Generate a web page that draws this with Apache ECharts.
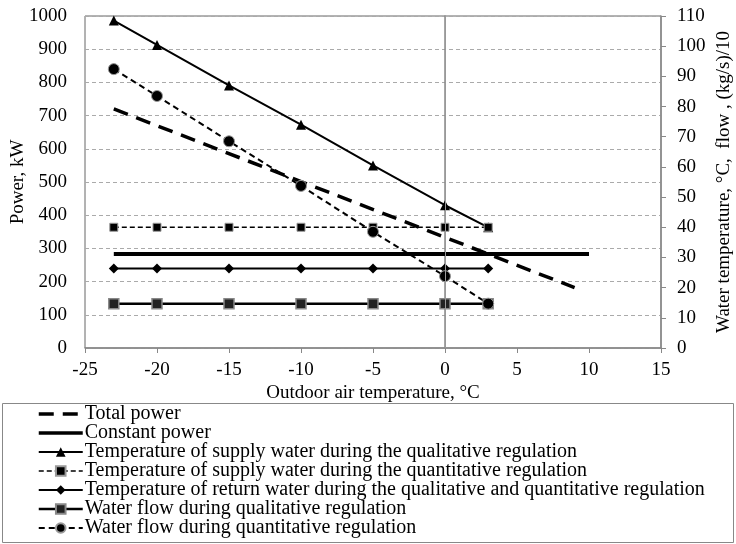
<!DOCTYPE html>
<html>
<head>
<meta charset="utf-8">
<script src="https://cdn.jsdelivr.net/npm/echarts@6/dist/echarts.min.js"></script>
<style>
  html, body { margin: 0; padding: 0; background: #fff; }
  #main { width: 736px; height: 544px; }
</style>
</head>
<body>
<div id="main"></div>
<script>
// outdoor temperature points
var xPts = [-23, -20, -15, -10, -5, 0, 3];
// power, kW (left axis)
var totalPower = [[-23, 720], [9, 182]];
var constPower = [[-23, 283], [10, 283]];
// water temperature / flow (right axis)
var supplyQual = [108.5, 100.4, 87, 74, 60.5, 47.3, 40];
var supplyQuant = [40, 40, 40, 40, 40, 40, 40];
var returnWater = [26.3, 26.3, 26.3, 26.3, 26.3, 26.3, 26.3];
var flowQual = [14.7, 14.7, 14.7, 14.7, 14.7, 14.7, 14.7];
var flowQuant = [92.4, 83.5, 68.5, 53.7, 38.5, 23.8, 14.7];

var names = [
  "Total power",
  "Constant power",
  "Temperature of supply water during the qualitative regulation",
  "Temperature of supply water during the quantitative regulation",
  "Temperature of return water during the qualitative and quantitative regulation",
  "Water flow during qualitative regulation",
  "Water flow during quantitative regulation"
];

function pairs(vals) {
  var out = [];
  for (var i = 0; i < xPts.length; i++) {
    out.push([xPts[i], vals[i]]);
  }
  return out;
}

var font = "Liberation Serif";
var fs = 19;
var myChart = echarts.init(document.getElementById("main"));

// legend line widths, the two power lines have no marker
var legendWidths = [3.5, 3.5, 2, 1.5, 2, 2.5, 2];
var legendData = names.map(function(n, i) {
  var item = { name: n, lineStyle: { width: legendWidths[i] } };
  if (i < 2) item.itemStyle = { opacity: 0 };
  return item;
});

var option = {
  backgroundColor: "#fff",
  animation: false,
  textStyle: { fontFamily: font, color: "#000" },
  grid: {
    left: 85, right: 75, top: 16, bottom: 196,
    containLabel: false, outerBoundsMode: "none",
    show: true, borderColor: "#666", borderWidth: 1
  },
  graphic: [
    {
      type: "rect",
      shape: { x: 2.5, y: 403.5, width: 731, height: 139 },
      style: { fill: "none", stroke: "#888", lineWidth: 1 },
      z: -1
    }
  ],
  legend: {
    orient: "vertical",
    left: 37, top: 404,
    itemWidth: 44, itemHeight: 12, itemGap: -1,
    padding: 0,
    textStyle: { fontFamily: font, fontSize: 20, color: "#000", lineHeight: 19, padding: [0, 0, 0, -3] },
    data: legendData
  },
  xAxis: {
    type: "value",
    min: -25, max: 15, interval: 5,
    name: "Outdoor air temperature, °C",
    nameLocation: "middle",
    nameGap: 36,
    nameMoveOverlap: false,
    nameTextStyle: { fontFamily: font, fontSize: fs, color: "#000" },
    axisLine: { lineStyle: { color: "#888", width: 1.5 } },
    axisTick: { show: true, inside: false, length: 5, lineStyle: { color: "#888" } },
    axisLabel: { fontFamily: font, fontSize: fs, color: "#000", margin: 13 },
    splitLine: { show: false }
  },
  yAxis: [
    {
      type: "value",
      min: 0, max: 1000, interval: 100,
      name: "Power, kW",
      nameLocation: "middle",
      nameGap: 57,
      nameMoveOverlap: false,
      nameRotate: 90,
      nameTextStyle: { fontFamily: font, fontSize: fs, color: "#000" },
      axisLine: { show: true, lineStyle: { color: "#888", width: 1.5 } },
      axisTick: { show: false },
      axisLabel: {
        fontFamily: font, fontSize: fs, color: "#000", margin: 18,
        formatter: function(v) { return String(v); }
      },
      splitLine: { show: true, lineStyle: { color: "#aaa", type: [4, 3], width: 1 } }
    },
    {
      type: "value",
      min: 0, max: 110, interval: 10,
      position: "right",
      name: "Water temperature, °C,  flow , (kg/s)/10",
      nameLocation: "middle",
      nameGap: 54,
      nameMoveOverlap: false,
      nameRotate: 90,
      nameTextStyle: { fontFamily: font, fontSize: fs, color: "#000" },
      axisLine: { show: true, lineStyle: { color: "#888", width: 1.5 } },
      axisTick: { show: true, inside: false, length: 5, lineStyle: { color: "#888" } },
      axisLabel: { fontFamily: font, fontSize: fs, color: "#000", margin: 16 },
      splitLine: { show: false }
    }
  ],
  series: [
    {
      name: names[0], type: "line", yAxisIndex: 0,
      data: totalPower, symbol: "none",
      lineStyle: { color: "#000", width: 3.5, type: [15, 9] },
      itemStyle: { color: "#000" },
      markLine: {
        silent: true, symbol: "none", label: { show: false },
        lineStyle: { color: "#999", type: "solid", width: 1 },
        data: [{ xAxis: 0 }]
      },
      z: 3
    },
    {
      name: names[1], type: "line", yAxisIndex: 0,
      data: constPower, symbol: "none",
      lineStyle: { color: "#000", width: 4 },
      itemStyle: { color: "#000" }
    },
    {
      name: names[2], type: "line", yAxisIndex: 1,
      data: pairs(supplyQual), symbol: "triangle", symbolSize: 10,
      lineStyle: { color: "#000", width: 2 },
      itemStyle: { color: "#000" }
    },
    {
      name: names[3], type: "line", yAxisIndex: 1,
      data: pairs(supplyQuant), symbol: "rect", symbolSize: 8,
      lineStyle: { color: "#000", width: 1.5, type: [5, 3] },
      itemStyle: { color: "#000", borderColor: "#999", borderWidth: 1 }
    },
    {
      name: names[4], type: "line", yAxisIndex: 1,
      data: pairs(returnWater), symbol: "diamond", symbolSize: 10,
      lineStyle: { color: "#000", width: 2 },
      itemStyle: { color: "#000" }
    },
    {
      name: names[5], type: "line", yAxisIndex: 1,
      data: pairs(flowQual), symbol: "rect", symbolSize: 10,
      lineStyle: { color: "#000", width: 2.5 },
      itemStyle: { color: "#222", borderColor: "#888", borderWidth: 1.5 }
    },
    {
      name: names[6], type: "line", yAxisIndex: 1,
      data: pairs(flowQuant), symbol: "circle", symbolSize: 11,
      lineStyle: { color: "#000", width: 2, type: [6, 4] },
      itemStyle: { color: "#000", borderColor: "#999", borderWidth: 1 }
    }
  ]
};

myChart.setOption(option);
</script>
</body>
</html>
